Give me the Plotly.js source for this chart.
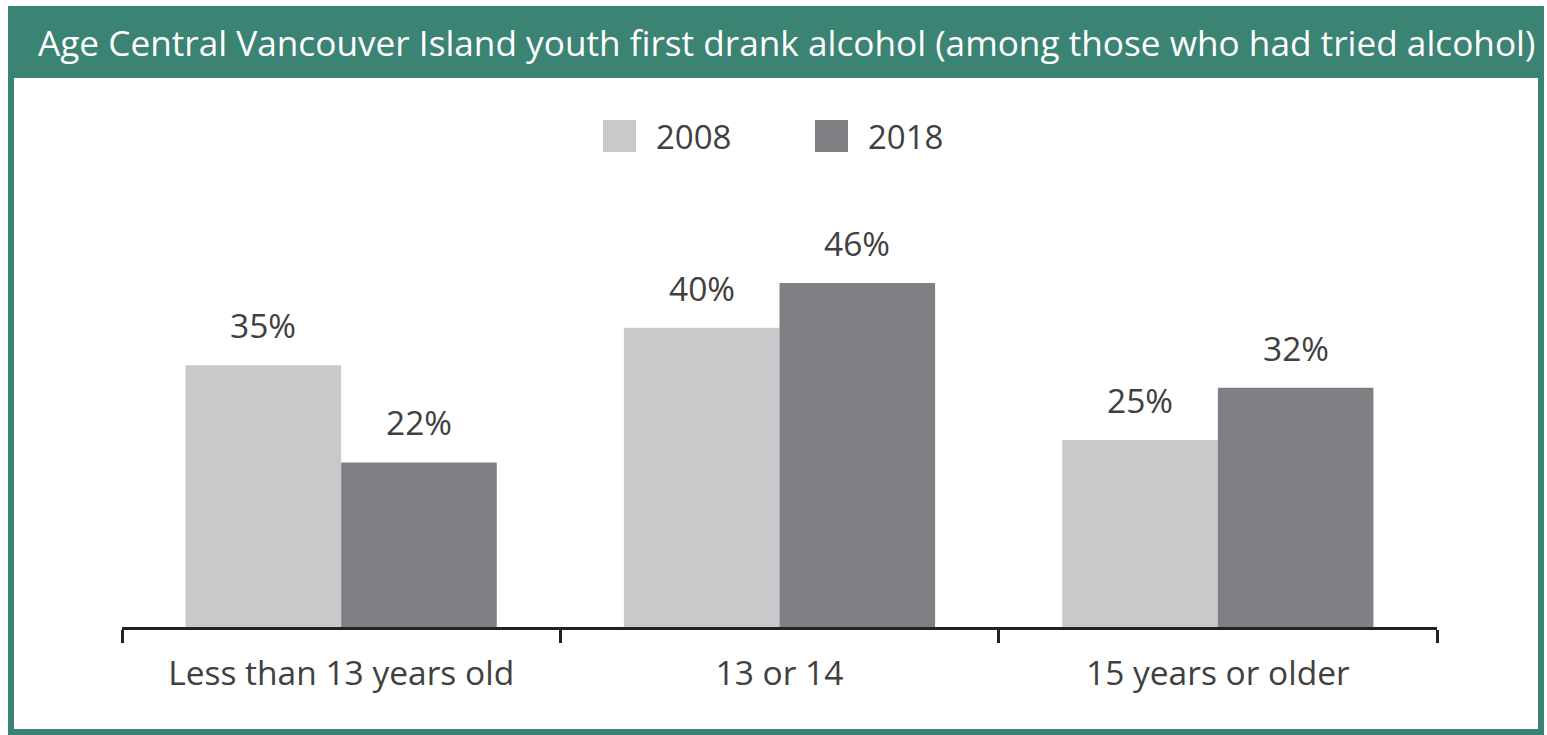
<!DOCTYPE html>
<html>
<head>
<meta charset="utf-8">
<script src="https://cdn.plot.ly/plotly-3.0.1.min.js"></script>
<style>html,body{margin:0;padding:0;background:#fff;}#chart{width:1547px;height:735px;}</style>
</head>
<body>
<div id="chart"></div>
<script>
const chartTitle = "Age Central Vancouver Island youth first drank alcohol (among those who had tried alcohol)";
const categories = ["Less than 13 years old", "13 or 14", "15 years or older"];
const seriesNames = ["2008", "2018"];
const values2008 = [35, 40, 25];
const values2018 = [22, 46, 32];

const W = 1547, H = 735;
const M = {l: 122, r: 110, t: 253, b: 108};
const PW = W - M.l - M.r, PH = H - M.t - M.b;
const px = x => (x - M.l) / PW;
const py = y => (H - M.b - y) / PH;

const green = "#3b8373";
const colors = ["#c8c9cb", "#7f8083"];
const textColor = "#404040";
const font = "Open Sans, Noto Sans, sans-serif";

const allValues = [values2008, values2018];
const traces = allValues.map((vals, i) => ({
  type: "bar",
  name: seriesNames[i],
  x: categories,
  y: vals,
  marker: {color: colors[i], line: {width: 0}},
  showlegend: false,
  hoverinfo: "x+y"
}));

const annotations = [];
const shift = PW / categories.length * (1 - 0.29) / 4;
allValues.forEach((vals, i) => {
  vals.forEach((v, j) => {
    annotations.push({
      x: categories[j], y: v, xref: "x", yref: "y",
      text: v + "%", showarrow: false,
      xshift: (i === 0 ? -1 : 1) * shift, yshift: 40,
      yanchor: "middle",
      font: {family: font, size: 33.5, color: textColor}
    });
  });
});
// title
annotations.push({
  x: px(786), y: py(42), xref: "paper", yref: "paper",
  text: chartTitle, showarrow: false, xanchor: "center", yanchor: "middle",
  font: {family: font, size: 35.2, color: "#ffffff"}
});
// legend
const legendBoxes = [603, 815];
const shapes = [
  {type: "rect", xref: "paper", yref: "paper", x0: px(11), x1: px(1541), y0: py(9), y1: py(732),
   line: {color: green, width: 6}, fillcolor: "rgba(0,0,0,0)", layer: "below"},
  {type: "rect", xref: "paper", yref: "paper", x0: px(8), x1: px(1544), y0: py(6), y1: py(78),
   line: {width: 0}, fillcolor: green, layer: "below"}
];
seriesNames.forEach((n, i) => {
  const x0 = legendBoxes[i];
  shapes.push({type: "rect", xref: "paper", yref: "paper", x0: px(x0), x1: px(x0 + 33), y0: py(120), y1: py(152),
    line: {width: 0}, fillcolor: colors[i]});
  annotations.push({x: px(x0 + 51), y: py(136), xref: "paper", yref: "paper", text: n, showarrow: false,
    xanchor: "left", yanchor: "middle", font: {family: font, size: 33, color: textColor}});
});

const layout = {
  width: W, height: H,
  margin: M,
  paper_bgcolor: "#ffffff", plot_bgcolor: "#ffffff",
  barmode: "group", bargap: 0.29, bargroupgap: 0,
  showlegend: false,
  xaxis: {
    type: "category", range: [-0.5, 2.5],
    showline: true, linecolor: "#222222", linewidth: 3,
    ticks: "outside", tickson: "boundaries", ticklen: 13, tickwidth: 3, tickcolor: "#222222",
    ticklabelstandoff: 15,
    tickfont: {family: font, size: 33.5, color: textColor},
    showgrid: false, zeroline: false, fixedrange: true
  },
  yaxis: {range: [0, 50], visible: false, showgrid: false, zeroline: false, fixedrange: true},
  shapes: shapes,
  annotations: annotations
};

Plotly.newPlot("chart", traces, layout, {displayModeBar: false, staticPlot: true});
</script>
</body>
</html>
